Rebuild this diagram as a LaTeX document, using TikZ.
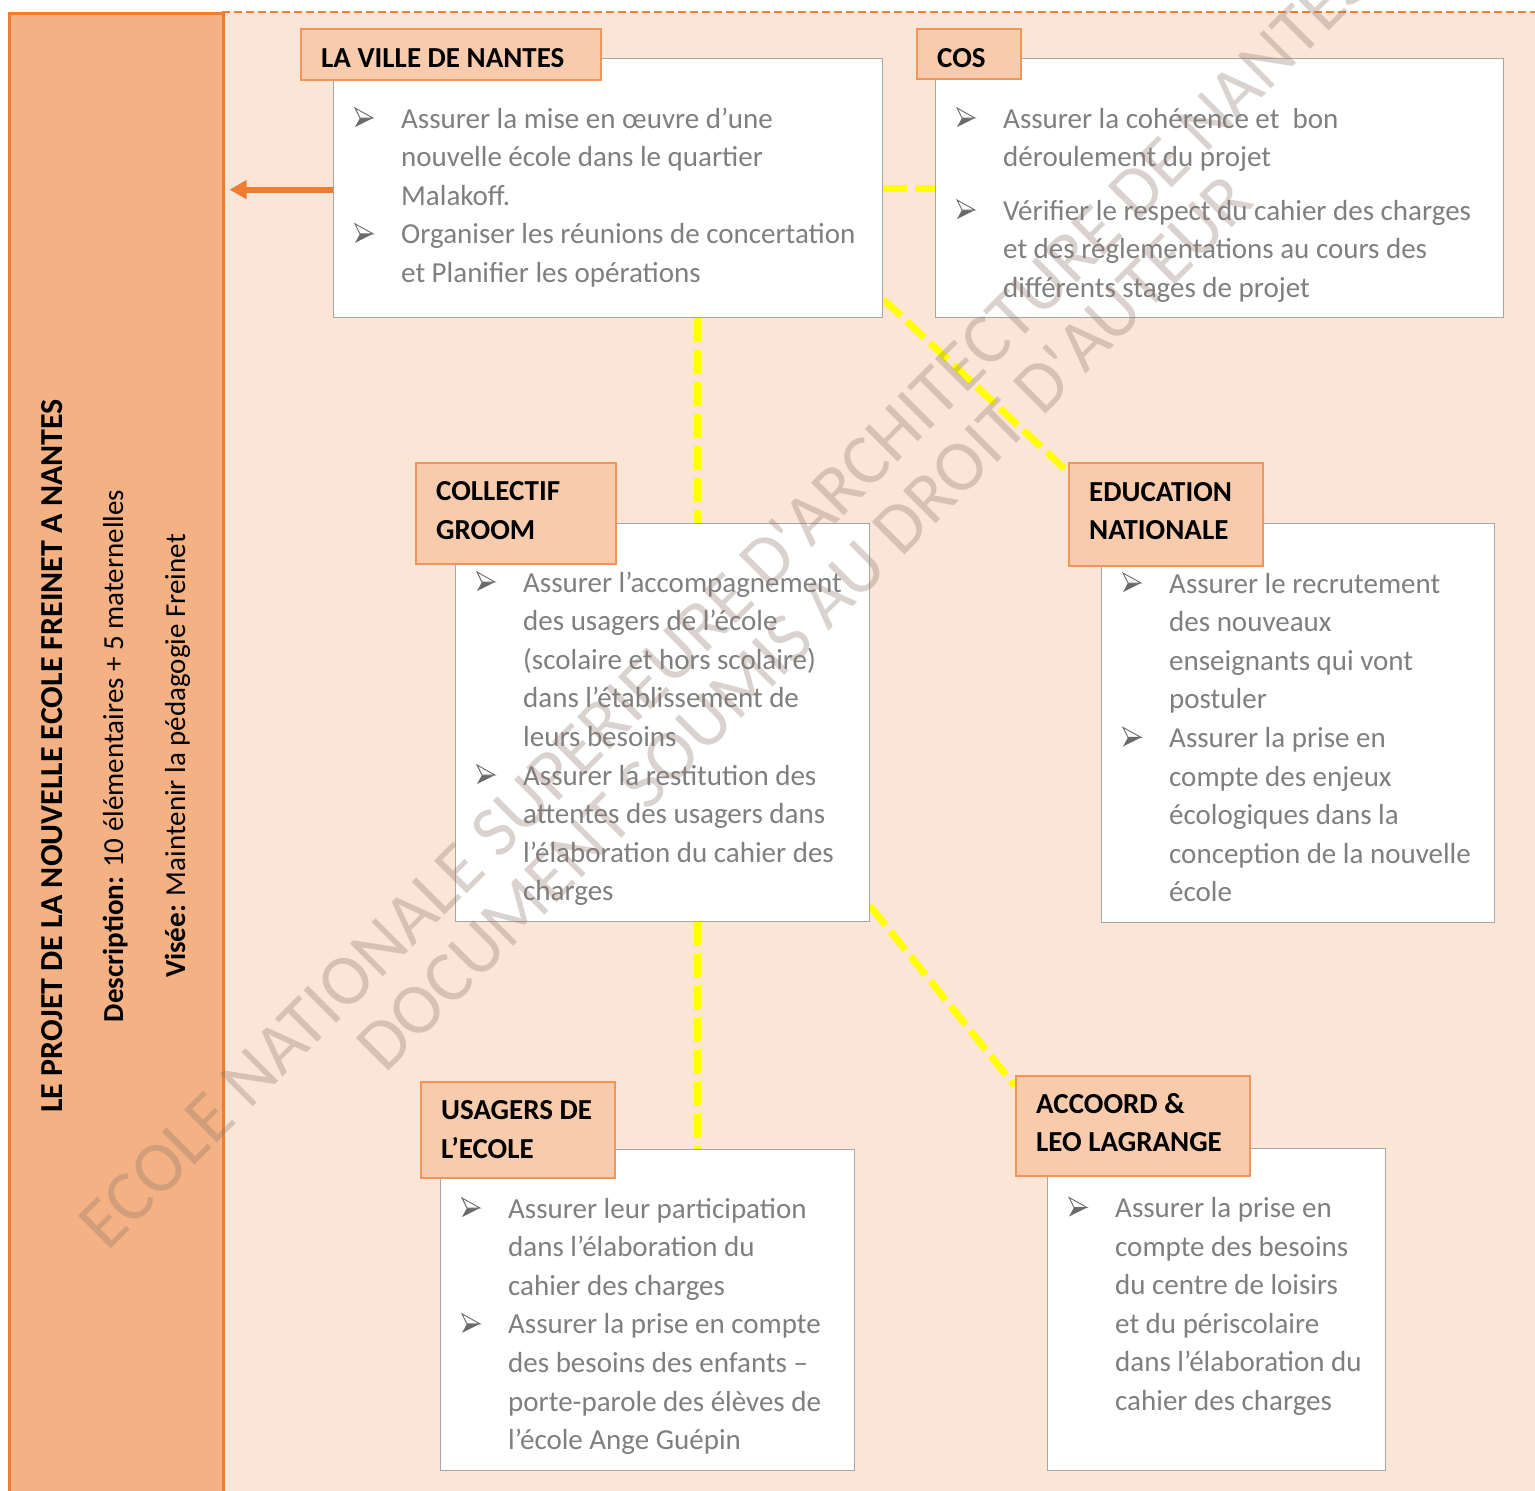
\documentclass[tikz,border=0pt]{standalone}
\usepackage{fontspec}
\setmainfont{Carlito}
\usetikzlibrary{arrows.meta}
\pgfdeclarelayer{back}
\pgfdeclarelayer{lines}
\pgfsetlayers{back,lines,main}
\definecolor{peach}{HTML}{FBE5D6}
\definecolor{panelfill}{HTML}{F4B183}
\definecolor{orng}{HTML}{ED7D31}
\definecolor{labfill}{HTML}{F8CBAD}
\definecolor{labdraw}{HTML}{F1955A}
\definecolor{boxdraw}{HTML}{A6A6A6}
\definecolor{bodygray}{HTML}{7F7F7F}
\definecolor{bulgray}{HTML}{6A6A6A}
\definecolor{ylw}{HTML}{FFFF00}
\definecolor{wm}{RGB}{140,120,110}
\tikzset{
  cbox/.style={draw=boxdraw, line width=1.3pt, fill=white},
  lbox/.style={draw=labdraw, line width=1.5pt, fill=labfill},
  body/.style={anchor=base west, inner sep=0pt, text=bodygray, font=\fontsize{29}{34}\selectfont},
  ltext/.style={anchor=base west, inner sep=0pt, text=black, font=\bfseries\fontsize{29}{34}\selectfont},
  yline/.style={draw=ylw, line width=7pt, dash pattern=on 24pt off 8pt},
  oarrow/.style={draw=orng, line width=6pt, -{Triangle[length=17pt,width=18pt]}},
  wmark/.style={anchor=base west, inner sep=0pt, rotate=45, text=wm, opacity=0.33, font=\fontsize{72}{80}\selectfont},
  ptext/.style={rotate=90, anchor=base, inner sep=0pt, text=black},
  bullet/.pic={
    \fill[bulgray] (5,10) -- (18,10) -- (0,19) -- cycle;
    \draw[bulgray, line width=0.9pt, fill=white, line join=miter] (0,0) -- (18,10) -- (5,10) -- cycle;
  }
}
\newcommand\rectnode[6]{\node[#6, anchor=north west, inner sep=0pt, minimum width={#4-#2}, minimum height={#5-#3}] (#1) at (#2,#3) {};}
\newcommand\bulpara[4]{%
  \pic at ({#2-46},{#3-20}) {bullet};
  \foreach \t [count=\i from 0] in {#4} {\node[body] (#1-\i) at (#2,{#3+38.6*\i}) {\t};}%
}
\begin{document}
\begin{tikzpicture}[x=1pt,y=-1pt]
\useasboundingbox (0,0) rectangle (1535,1491);
\begin{pgfonlayer}{back}
  \fill[peach] (222,12) rectangle (1535,1491);
  \draw[orng, line width=2pt, dash pattern=on 8pt off 4pt] (222,12) -- (1535,12);
\end{pgfonlayer}

% left panel
\rectnode{panel}{8}{12}{222}{1491}{draw=orng, line width=2.5pt, fill=panelfill}
\node[ptext, font=\bfseries\fontsize{32}{36}\selectfont] (ptitle) at (62,756) {LE PROJET DE LA NOUVELLE ECOLE FREINET A NANTES};
\node[ptext, font=\fontsize{29}{34}\selectfont] (pdesc) at (123,756) {\textbf{Description:} 10 élémentaires + 5 maternelles};
\node[ptext, font=\fontsize{29}{34}\selectfont] (pvis) at (185,756) {\textbf{Visée:} Maintenir la pédagogie Freinet};

% content boxes
\rectnode{vilB}{333}{58}{882}{317}{cbox}
\rectnode{cosB}{935}{58}{1503}{317}{cbox}
\rectnode{colB}{455}{523}{869}{921}{cbox}
\rectnode{edB}{1101}{523}{1494}{922}{cbox}
\rectnode{usB}{440}{1149}{854}{1470}{cbox}
\rectnode{acB}{1047}{1148}{1385}{1470}{cbox}

% labels
\rectnode{vilL}{300}{28}{600}{79}{lbox}
\rectnode{cosL}{916}{28}{1020}{78}{lbox}
\rectnode{colL}{415}{462}{615}{563}{lbox}
\rectnode{edL}{1068}{462}{1262}{565}{lbox}
\rectnode{usL}{420}{1081}{614}{1177}{lbox}
\rectnode{acL}{1015}{1075}{1249}{1175}{lbox}

% connectors
\coordinate (vx) at (697,0);
\begin{pgfonlayer}{lines}
  \draw[yline] (vilB.east) -- (cosB.west);
  \draw[yline] (vx |- vilB.south) -- (vx |- colB.north);
  \draw[yline] (vx |- colB.south) -- (vx |- usB.north);
  \draw[yline] ([yshift=19pt]vilB.south east) -- ([yshift=-10pt]edL.north west);
  \draw[yline] ([yshift=16pt]colB.south east) -- ([yshift=-11pt]acL.north west);
\end{pgfonlayer}
\draw[oarrow, shorten >=5pt] ([yshift=-1.5pt]vilB.west) -- ([yshift=-1.5pt]panel.east |- vilB.west);

% label texts
\node[ltext] (tvil) at (321,67) {LA VILLE DE NANTES};
\node[ltext] (tcos) at (937,67) {COS};
\node[ltext] (tcol1) at (436,500) {COLLECTIF};
\node[ltext] (tcol2) at (436,539) {GROOM};
\node[ltext] (ted1) at (1089,501) {EDUCATION};
\node[ltext] (ted2) at (1089,539) {NATIONALE};
\node[ltext] (tus1) at (441,1119) {USAGERS DE};
\node[ltext] (tus2) at (441,1158) {L’ECOLE};
\node[ltext] (tac1) at (1036,1113) {ACCOORD \&};
\node[ltext] (tac2) at (1036,1151) {LEO LAGRANGE};

% body texts
\bulpara{v1}{401}{128}{{Assurer la mise en œuvre d’une},{nouvelle école dans le quartier},{Malakoff.}}
\bulpara{v2}{401}{243.8}{{Organiser les réunions de concertation},{et Planifier les opérations}}
\bulpara{c1}{1003}{128}{{Assurer la cohérence et\ \ bon},{déroulement du projet}}
\bulpara{c2}{1003}{220}{{Vérifier le respect du cahier des charges},{et des réglementations au cours des},{différents stages de projet}}
\bulpara{g1}{523}{592}{{Assurer l’accompagnement},{des usagers de l’école},{(scolaire et hors scolaire)},{dans l’établissement de},{leurs besoins}}
\bulpara{g2}{523}{785}{{Assurer la restitution des},{attentes des usagers dans},{l’élaboration du cahier des},{charges}}
\bulpara{e1}{1169}{593}{{Assurer le recrutement},{des nouveaux},{enseignants qui vont},{postuler}}
\bulpara{e2}{1169}{747.4}{{Assurer la prise en},{compte des enjeux},{écologiques dans la},{conception de la nouvelle},{école}}
\bulpara{u1}{508}{1218}{{Assurer leur participation},{dans l’élaboration du},{cahier des charges}}
\bulpara{u2}{508}{1333.8}{{Assurer la prise en compte},{des besoins des enfants –},{porte-parole des élèves de},{l’école Ange Guépin}}
\bulpara{a1}{1115}{1217.5}{{Assurer la prise en},{compte des besoins},{du centre de loisirs},{et du périscolaire},{dans l’élaboration du},{cahier des charges}}

% watermark
\node[wmark] (wm1) at (107,1253) {ECOLE NATIONALE SUPERIEURE D\textquotesingle ARCHITECTURE DE NANTES};
\node[wmark] (wm2) at (385,1075) {DOCUMENT SOUMIS AU DROIT D\textquotesingle AUTEUR};
\end{tikzpicture}
\end{document}
